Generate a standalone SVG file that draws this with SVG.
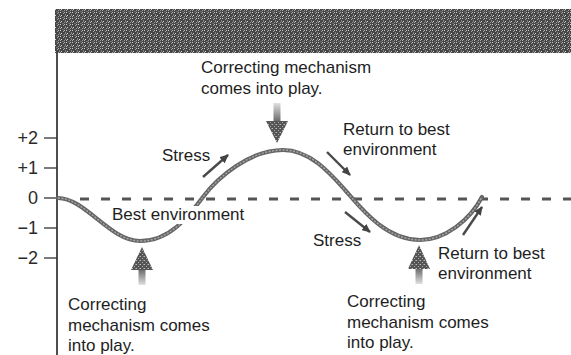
<svg xmlns="http://www.w3.org/2000/svg" width="571" height="355" viewBox="0 0 571 355">
<style>
.t{font-family:"Liberation Sans",Arial,sans-serif;font-size:17px;fill:#1e1e1e}
.ax{font-family:"Liberation Sans",Arial,sans-serif;font-size:18px;fill:#2a2a2a;text-anchor:end}
.tick{stroke:#333;stroke-width:1.3}
.small{fill:none;stroke:#4a4a4a;stroke-width:2.4;marker-end:url(#ah)}
.head{fill:url(#tex2)}
</style>
<defs>
<pattern id="tex" width="6" height="6" patternUnits="userSpaceOnUse">
<rect width="6" height="6" fill="#464646"/>
<rect x="0" y="0" width="1" height="1" fill="#d0d0d0"/>
<rect x="3" y="1" width="1" height="1" fill="#a8a8a8"/>
<rect x="1" y="3" width="1" height="1" fill="#dadada"/>
<rect x="4" y="4" width="1" height="1" fill="#9a9a9a"/>
<rect x="2" y="5" width="2" height="1" fill="#707070"/>
<rect x="5" y="2" width="1" height="2" fill="#858585"/>
<rect x="4" y="0" width="1" height="1" fill="#bcbcbc"/>
<rect x="0" y="4" width="1" height="1" fill="#b0b0b0"/>
</pattern>
<pattern id="tex2" width="4" height="4" patternUnits="userSpaceOnUse">
<rect width="4" height="4" fill="#555"/>
<rect x="0" y="0" width="1" height="1" fill="#bbb"/>
<rect x="2" y="2" width="1" height="1" fill="#aaa"/>
<rect x="3" y="0" width="1" height="1" fill="#888"/>
</pattern>
<linearGradient id="gDown" x1="0" y1="0" x2="0" y2="1">
<stop offset="0" stop-color="#e0e0e0"/><stop offset="1" stop-color="#666"/>
</linearGradient>
<linearGradient id="gUp" x1="0" y1="1" x2="0" y2="0">
<stop offset="0" stop-color="#e0e0e0"/><stop offset="1" stop-color="#666"/>
</linearGradient>
<marker id="ah" markerWidth="9" markerHeight="8" refX="8" refY="4" orient="auto" markerUnits="userSpaceOnUse">
<path d="M0,0 L9,4 L0,8 z" fill="#444"/>
</marker>
</defs>

<rect width="571" height="355" fill="#fff"/>

<g id="band">
<rect x="55" y="9" width="516" height="44" fill="url(#tex)"/>
</g>

<g id="axis">
<line x1="57" y1="53" x2="57" y2="355" stroke="#222" stroke-width="1.6"/>
<line class="tick" x1="44" y1="138" x2="57" y2="138"/>
<line class="tick" x1="44" y1="168" x2="57" y2="168"/>
<line class="tick" x1="44" y1="198" x2="57" y2="198"/>
<line class="tick" x1="44" y1="228" x2="57" y2="228"/>
<line class="tick" x1="44" y1="258" x2="57" y2="258"/>
<text class="ax" x="38" y="144">+2</text>
<text class="ax" x="38" y="174">+1</text>
<text class="ax" x="38" y="204">0</text>
<text class="ax" x="38" y="234">−1</text>
<text class="ax" x="38" y="264">−2</text>
</g>

<g id="zero-line">
<line x1="80" y1="199" x2="571" y2="199" stroke="#555" stroke-width="3" stroke-dasharray="9 12"/>
</g>

<g id="curve">
<path d="M58,198 C85,198 110,241 140,241 C170,241 188,217 203,197 C218,177 250,150 283,150 C310,150 330,173 345,190 C360,207 385,240 420,240 C445,240 470,220 482,197" fill="none" stroke="#666" stroke-width="4.2" stroke-linecap="round"/>
<path d="M58,198 C85,198 110,241 140,241 C170,241 188,217 203,197 C218,177 250,150 283,150 C310,150 330,173 345,190 C360,207 385,240 420,240 C445,240 470,220 482,197" fill="none" stroke="#a8a8a8" stroke-width="1.4" stroke-dasharray="2 1.5"/>
</g>

<g id="connectors">
<line class="small" x1="203" y1="177" x2="228" y2="155"/>
<line class="small" x1="327" y1="152" x2="350" y2="175"/>
<line class="small" x1="345" y1="212" x2="370" y2="232"/>
<line class="small" x1="463" y1="235" x2="482" y2="207"/>
<g id="arrow-top">
<rect x="273.5" y="103" width="7" height="19" fill="url(#gDown)"/>
<polygon class="head" points="266,121 288,121 277,143"/>
</g>
<g id="arrow-left">
<rect x="138.5" y="269" width="7" height="16" fill="url(#gUp)"/>
<polygon class="head" points="131,270 153,270 142,247"/>
</g>
<g id="arrow-right">
<rect x="415.5" y="268" width="7" height="16" fill="url(#gUp)"/>
<polygon class="head" points="408,269 430,269 419,245"/>
</g>
</g>

<g id="label-top">
<text class="t" x="201" y="73">Correcting mechanism</text>
<text class="t" x="201" y="94">comes into play.</text>
</g>
<g id="label-stress-1">
<text class="t" x="162" y="161">Stress</text>
</g>
<g id="label-return-1">
<text class="t" x="343" y="135">Return to best</text>
<text class="t" x="343" y="155">environment</text>
</g>
<g id="label-best">
<rect x="108" y="206" width="146" height="18" fill="#fff"/>
<text class="t" x="112" y="220">Best environment</text>
</g>
<g id="label-stress-2">
<text class="t" x="313" y="246">Stress</text>
</g>
<g id="label-return-2">
<text class="t" x="438" y="259">Return to best</text>
<text class="t" x="438" y="279">environment</text>
</g>
<g id="label-correct-left">
<text class="t" x="68" y="310">Correcting</text>
<text class="t" x="68" y="331">mechanism comes</text>
<text class="t" x="68" y="351">into play.</text>
</g>
<g id="label-correct-right">
<text class="t" x="347" y="307">Correcting</text>
<text class="t" x="347" y="328">mechanism comes</text>
<text class="t" x="347" y="348">into play.</text>
</g>
</svg>
